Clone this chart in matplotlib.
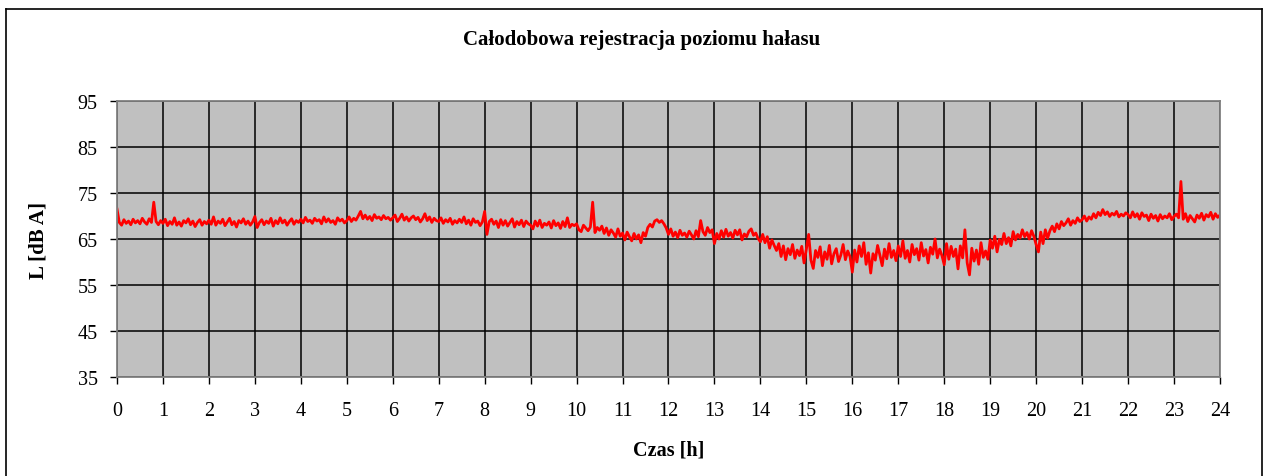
import numpy as np
import matplotlib.pyplot as plt
from matplotlib.lines import Line2D

# poziom hałasu co 0.05 h, jedna lista na godzinę
h00 = [71.5, 68.6, 68.0, 69.2, 68.4, 68.9, 68.1, 69.3, 68.5, 69.0, 68.3, 69.5, 68.7, 68.2, 69.4, 68.6, 73.0, 68.8, 68.1, 69.0]
h01 = [68.4, 69.3, 67.9, 68.8, 68.2, 69.6, 68.0, 68.7, 67.8, 69.0, 68.5, 69.4, 68.1, 68.9, 67.7, 68.6, 69.2, 68.0, 68.8, 68.3]
h02 = [69.1, 68.2, 69.8, 68.0, 68.9, 68.4, 69.3, 67.9, 68.7, 69.5, 68.1, 68.8, 67.6, 69.0, 68.5, 69.4, 68.2, 68.9, 68.0, 68.7]
h03 = [69.9, 67.5, 68.6, 69.2, 68.1, 68.9, 68.4, 69.5, 67.8, 69.0, 68.3, 69.6, 68.5, 69.1, 68.0, 68.8, 69.4, 68.2, 69.0, 68.6]
h04 = [69.3, 68.5, 69.7, 68.8, 69.1, 68.4, 69.5, 68.9, 69.2, 68.3, 69.8, 68.7, 69.4, 68.6, 69.0, 68.2, 69.6, 68.9, 69.3, 68.5]
h05 = [69.0, 69.8, 68.8, 69.5, 69.1, 70.0, 71.0, 69.4, 70.2, 69.3, 69.9, 69.0, 70.3, 69.5, 69.8, 69.2, 70.1, 69.4, 69.7, 69.1]
h06 = [69.6, 70.2, 68.8, 69.5, 70.4, 69.1, 69.8, 68.9, 69.6, 70.0, 69.2, 69.7, 68.7, 69.4, 70.5, 69.0, 69.8, 68.6, 69.5, 69.0]
h07 = [68.8, 69.6, 68.4, 69.2, 68.7, 69.5, 68.2, 69.0, 68.5, 69.3, 68.6, 69.8, 68.3, 69.1, 68.0, 69.4, 68.6, 68.9, 67.9, 68.7]
h08 = [71.0, 66.0, 68.8, 69.3, 68.2, 68.9, 67.5, 69.2, 68.0, 69.0, 67.8, 68.6, 69.4, 67.6, 68.8, 68.1, 69.1, 67.7, 68.9, 68.3]
h09 = [68.0, 67.2, 68.9, 67.8, 69.1, 67.5, 68.4, 68.0, 68.7, 67.4, 69.0, 67.9, 68.5, 67.3, 68.8, 67.7, 69.6, 67.5, 68.2, 67.9]
h10 = [68.3, 67.0, 66.6, 68.0, 67.4, 66.8, 67.6, 73.0, 66.4, 67.5, 66.9, 67.8, 66.2, 67.4, 65.8, 67.0, 66.3, 65.4, 67.2, 65.6]
h11 = [66.3, 64.8, 66.5, 65.5, 64.6, 66.2, 65.0, 65.9, 64.2, 66.4, 65.6, 67.5, 68.2, 67.6, 68.9, 69.2, 68.6, 69.0, 68.3, 67.4]
h12 = [66.0, 67.2, 65.6, 66.5, 65.3, 66.9, 65.8, 66.3, 65.4, 66.7, 65.9, 65.0, 66.8, 65.5, 69.0, 66.6, 65.8, 67.5, 66.4, 67.0]
h13 = [64.0, 66.2, 65.0, 66.8, 65.4, 67.1, 65.6, 66.4, 65.2, 66.9, 65.9, 67.0, 64.8, 66.1, 65.5, 66.7, 67.2, 65.8, 66.3, 65.1]
h14 = [64.4, 66.0, 64.2, 65.5, 63.0, 64.8, 63.6, 62.5, 64.0, 61.2, 63.5, 60.5, 62.9, 61.6, 63.8, 60.8, 62.6, 61.4, 63.4, 59.8]
h15 = [62.8, 66.0, 60.4, 58.6, 62.5, 61.0, 63.3, 59.2, 62.2, 60.6, 63.6, 59.6, 61.8, 62.9, 60.1, 61.5, 63.8, 60.5, 62.4, 61.2]
h16 = [57.8, 62.6, 60.0, 63.5, 61.2, 64.2, 59.5, 62.0, 57.6, 61.8, 60.4, 63.6, 61.5, 59.2, 62.8, 60.7, 64.0, 61.0, 62.5, 60.3]
h17 = [63.5, 61.2, 64.6, 60.8, 62.5, 60.0, 63.8, 61.6, 62.9, 60.4, 64.2, 61.3, 62.7, 59.8, 63.2, 61.7, 65.0, 60.9, 62.8, 61.4]
h18 = [59.4, 64.0, 60.6, 63.4, 61.2, 62.8, 58.5, 63.5, 60.9, 67.0, 59.8, 57.2, 63.0, 60.2, 62.6, 59.5, 64.2, 61.0, 62.4, 60.6]
h19 = [64.8, 63.0, 65.6, 62.2, 64.9, 63.8, 66.2, 64.0, 65.3, 63.5, 66.6, 64.8, 66.0, 65.2, 67.0, 65.5, 66.4, 65.0, 66.8, 65.6]
h20 = [63.8, 62.2, 66.5, 64.0, 67.0, 65.2, 66.8, 67.8, 66.6, 68.3, 67.2, 68.8, 67.9, 68.5, 69.4, 68.0, 69.0, 68.4, 69.6, 68.8]
h21 = [69.2, 70.0, 68.9, 69.8, 69.3, 70.5, 69.6, 70.8, 70.1, 71.4, 70.3, 70.9, 69.9, 70.6, 70.2, 71.0, 69.8, 70.4, 70.0, 70.7]
h22 = [70.3, 69.6, 70.9, 69.8, 70.5, 69.3, 70.7, 69.9, 70.2, 69.0, 70.4, 69.5, 70.1, 68.9, 70.3, 69.4, 70.0, 69.6, 70.5, 69.2]
h23 = [69.9, 70.4, 69.6, 77.5, 69.3, 70.5, 68.8, 70.1, 69.4, 68.7, 70.2, 69.5, 70.6, 69.1, 70.3, 69.8, 70.8, 69.3, 70.5, 69.7]
koniec = 70.2

godziny = [h00, h01, h02, h03, h04, h05, h06, h07, h08, h09, h10, h11,
           h12, h13, h14, h15, h16, h17, h18, h19, h20, h21, h22, h23]

czas = np.concatenate([np.linspace(i, i + 1, len(g), endpoint=False) for i, g in enumerate(godziny)] + [[24]])
level = np.concatenate(godziny + [[koniec]])

y_ticks = [35, 45, 55, 65, 75, 85, 95]
x_ticks = list(range(25))

plt.rcParams['font.family'] = ['Liberation Serif', 'DejaVu Serif']

fig = plt.figure(figsize=(12.65, 4.77), dpi=100)
ax = fig.add_axes([0.0925, 0.2075, 0.8719, 0.5787])
ax.set_facecolor('#C0C0C0')

ax.plot(czas, level, color='#FF0000', linewidth=2.0)

ax.set_xlim(0, 24)
ax.set_ylim(35, 95)
ax.set_xticks(x_ticks)
ax.set_yticks(y_ticks)
ax.tick_params(direction='out', length=5, width=1, labelsize=14.5, color='black')
ax.tick_params(axis='x', pad=12)
ax.tick_params(axis='y', pad=9)
ax.grid(True, color='black', linewidth=1.1)
ax.set_axisbelow(True)
for s in ax.spines.values():
    s.set_color('#808080')
    s.set_linewidth(1.3)

# tytuł wyśrodkowany na całej ramce
fig.text(0.507, 0.916, 'Całodobowa rejestracja poziomu hałasu', fontsize=15,
         fontweight='bold', ha='center', va='center')
ax.set_xlabel('Czas [h]', fontsize=14.5, fontweight='bold', labelpad=14)
ax.set_ylabel('L [dB A]', fontsize=15, fontweight='bold', labelpad=21)

# ramka wykresu
for xs, ys in [([0.0047, 0.0047], [0.0, 0.979]), ([0.0047, 0.9976], [0.979, 0.979]),
               ([0.9976, 0.9976], [0.0, 0.979])]:
    fig.add_artist(Line2D(xs, ys, transform=fig.transFigure, color='black', linewidth=1.2))

fig.savefig('out.png', dpi=100)
